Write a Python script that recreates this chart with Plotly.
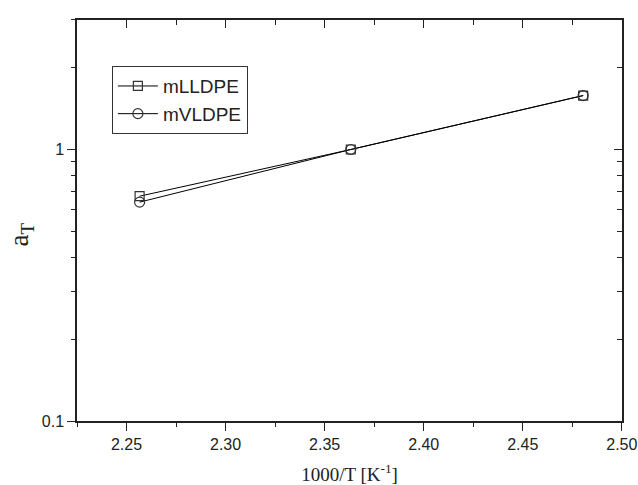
import plotly.graph_objects as go

x_vals = [2.2566, 2.3632, 2.4805]
mlldpe = [0.673, 1.0, 1.58]
mvldpe = [0.640, 1.0, 1.58]

xmajor = [2.25, 2.30, 2.35, 2.40, 2.45, 2.50]
xmajor_text = ["2.25", "2.30", "2.35", "2.40", "2.45", "2.50"]
xminor = [2.225, 2.275, 2.325, 2.375, 2.425, 2.475]
ymajor = [0.1, 1]
ymajor_text = ["0.1", "1"]
yminor = [0.2, 0.3, 0.4, 0.5, 0.6, 0.7, 0.8, 0.9, 2, 3]

XR = [2.225, 2.5001]
YR = [-1, 0.477]
AX = "#222"

fig = go.Figure()
fig.add_trace(go.Scatter(x=x_vals, y=mlldpe, name="mLLDPE", mode="lines+markers",
                         line=dict(color="black", width=1),
                         marker=dict(symbol="square-open", size=9, color="#333", line=dict(width=1.2))))
fig.add_trace(go.Scatter(x=x_vals, y=mvldpe, name="mVLDPE", mode="lines+markers",
                         line=dict(color="black", width=1),
                         marker=dict(symbol="circle-open", size=10, color="#333", line=dict(width=1.2))))
for k in (2, 3, 4):
    fig.add_trace(go.Scatter(x=[2.3], y=[1], xaxis=f"x{k}", yaxis=f"y{k}", showlegend=False,
                             mode="markers", marker=dict(opacity=0), hoverinfo="skip"))

tickfont = dict(family="Liberation Sans, Arial", size=16, color="#222")

def xax(**kw):
    d = dict(range=XR, showgrid=False, zeroline=False, automargin=False,
             tickcolor=AX, tickwidth=1.2)
    d.update(kw)
    return d

def yax(**kw):
    d = dict(type="log", range=YR, showgrid=False, zeroline=False, automargin=False,
             tickcolor=AX, tickwidth=1.2)
    d.update(kw)
    return d

fig.update_layout(
    width=638, height=485,
    margin=dict(l=77, r=16, t=20, b=64),
    paper_bgcolor="white", plot_bgcolor="white",
    showlegend=True,
    legend=dict(x=0.064, y=0.885, xanchor="left", yanchor="top",
                bordercolor="#333", borderwidth=1, bgcolor="white",
                font=dict(family="Liberation Sans, Arial", size=19, color="#222"),
                tracegroupgap=0, itemwidth=40),
    xaxis=xax(showline=True, linecolor=AX, linewidth=1.5,
              ticks="outside", ticklen=8, tickvals=xmajor, ticktext=xmajor_text,
              tickfont=tickfont, ticklabeloverflow="allow",
              title=dict(text="1000/T [K<sup>-1</sup>]",
                         font=dict(family="Liberation Serif, Times New Roman", size=19, color="#222"),
                         standoff=17)),
    yaxis=yax(showline=True, linecolor=AX, linewidth=1.5,
              ticks="outside", ticklen=8, tickvals=ymajor, ticktext=ymajor_text,
              tickfont=tickfont),
    xaxis2=xax(overlaying="x", side="top", showline=True, linecolor=AX, linewidth=1.5,
               ticks="inside", ticklen=8, tickvals=xmajor, showticklabels=False),
    yaxis2=yax(overlaying="y", side="right", showline=True, linecolor=AX, linewidth=1.5,
               ticks="inside", ticklen=8, tickvals=ymajor, showticklabels=False),
    xaxis3=xax(overlaying="x", side="bottom", showline=False,
               ticks="outside", ticklen=5, tickvals=xminor, showticklabels=False),
    yaxis3=yax(overlaying="y", side="left", showline=False,
               ticks="outside", ticklen=5, tickvals=yminor, showticklabels=False),
    xaxis4=xax(overlaying="x", side="top", showline=False,
               ticks="inside", ticklen=5, tickvals=xminor, showticklabels=False),
    yaxis4=yax(overlaying="y", side="right", showline=False,
               ticks="inside", ticklen=5, tickvals=yminor, showticklabels=False),
    annotations=[dict(text="a<sub>T</sub>", xref="paper", yref="paper",
                      x=-0.103, y=0.465, xanchor="center", yanchor="middle",
                      textangle=-90, showarrow=False,
                      font=dict(family="Liberation Serif, Times New Roman", size=27, color="#222"))],
)

# remove the page's default 8px body margin so the figure fills the window
fig.write_html("out.html", config={"displayModeBar": False},
               post_script="document.body.style.margin='0';")
